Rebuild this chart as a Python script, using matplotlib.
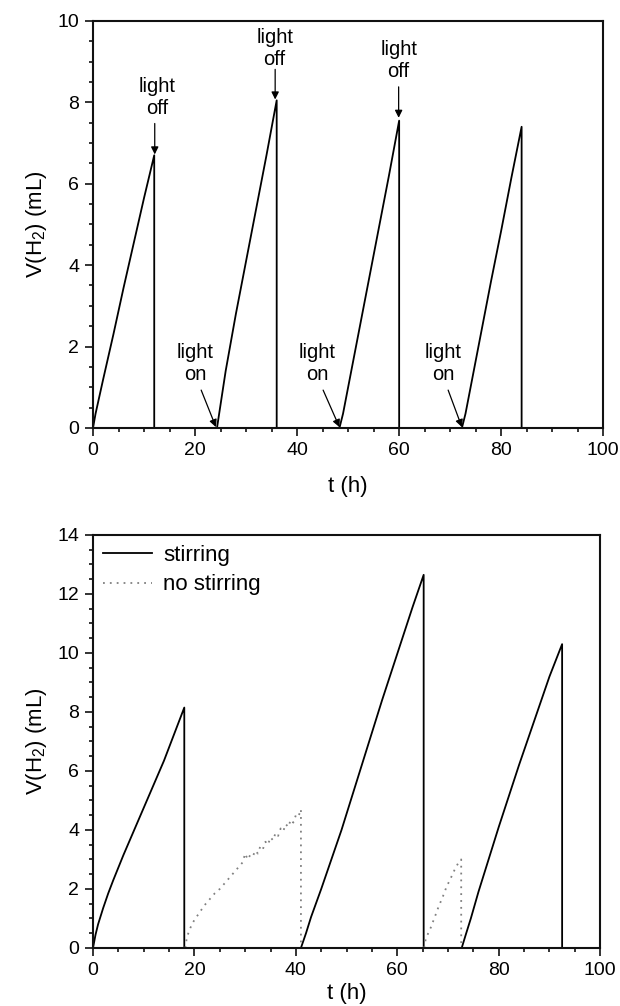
import matplotlib
matplotlib.use("Agg")
import matplotlib.pyplot as plt
from matplotlib.ticker import MultipleLocator

plt.rcParams['font.family'] = ['Liberation Sans', 'DejaVu Sans']
plt.rcParams['mathtext.fontset'] = 'custom'
plt.rcParams['mathtext.rm'] = 'Liberation Sans'

# ---------------- top panel data (light on/off cycles) ----------------
top_t = [
    [0, 0.5, 2, 4, 6, 8, 10, 12],
    [24.3, 26, 28, 30, 32, 34, 36],
    [48.3, 49, 50, 52, 54, 56, 58, 60],
    [72.3, 73, 74, 76, 78, 80, 82, 84],
]
top_v = [
    [0, 0.35, 1.2, 2.3, 3.45, 4.55, 5.65, 6.7],
    [0, 1.4, 2.8, 4.1, 5.4, 6.7, 8.05],
    [0, 0.35, 1.0, 2.3, 3.6, 4.9, 6.2, 7.55],
    [0, 0.35, 1.0, 2.3, 3.6, 4.85, 6.15, 7.4],
]
off_labels = ["light\noff", "light\noff", "light\noff"]
off_text_xy = [(12.5, 8.13), (35.6, 9.32), (59.9, 9.02)]
off_arrow_from = [(12.1, 7.48), (35.7, 8.81), (59.9, 8.38)]
off_arrow_to = [(12.1, 6.72), (35.7, 8.07), (59.9, 7.62)]
on_labels = ["light\non", "light\non", "light\non"]
on_text_xy = [(20.0, 1.58), (44.0, 1.58), (68.6, 1.58)]
on_arrow_from = [(21.2, 0.93), (45.1, 0.93), (69.6, 0.93)]
on_arrow_to = [(24.1, 0.02), (48.3, 0.02), (72.3, 0.02)]

# ---------------- bottom panel data (stirring / no stirring) ----------------
stir_t = [
    [0, 0.5, 1, 2, 3, 4, 6, 8, 10, 12, 14, 16, 18],
    [41, 42, 43, 45, 47, 49, 51, 53, 55, 57, 59, 61, 63, 65.2],
    [72.7, 73.5, 74.5, 76, 78, 80, 82, 84, 86, 88, 90, 92.5],
]
stir_v = [
    [0, 0.45, 0.8, 1.35, 1.85, 2.3, 3.15, 3.95, 4.75, 5.55, 6.35, 7.25, 8.15],
    [0, 0.5, 1.05, 2.0, 3.0, 4.0, 5.1, 6.2, 7.3, 8.4, 9.45, 10.5, 11.55, 12.65],
    [0, 0.45, 1.0, 1.9, 3.0, 4.1, 5.15, 6.2, 7.2, 8.2, 9.2, 10.3],
]
nostir_t = [
    [18.2, 18.5, 19, 19.5, 20, 21, 22, 23, 24, 25, 26, 27, 28, 29, 29.5, 30,
     30.5, 31, 31.5, 32, 32.5, 33, 33.5, 34, 34.5, 35, 35.5, 36, 36.5, 37,
     37.5, 38, 38.5, 39, 39.5, 40, 40.5, 41],
    [65.3, 65.6, 66.1, 66.6, 67.5, 68.1, 69, 69.7, 70.5, 71.3, 72.3, 72.6],
]
nostir_v = [
    [0, 0.35, 0.6, 0.8, 0.95, 1.2, 1.45, 1.65, 1.85, 2.0, 2.2, 2.4, 2.6, 2.8, 2.9, 3.2,
     3.0, 3.15, 3.1, 3.3, 3.2, 3.45, 3.35, 3.6, 3.5, 3.75, 3.65, 3.9, 3.8, 4.05,
     3.95, 4.2, 4.1, 4.35, 4.25, 4.5, 4.45, 4.7],
    [0, 0.3, 0.5, 0.69, 1.1, 1.38, 1.75, 2.07, 2.35, 2.65, 2.97, 3.0],
]

FS_TICK = 14
FS_ANN = 14.5
FS_LAB = 16

fig = plt.figure(figsize=(6.2, 10.06), dpi=100)
ax1 = fig.add_axes([0.150, 0.5746, 0.823, 0.4046])
ax2 = fig.add_axes([0.150, 0.0577, 0.818, 0.4105])


def style(ax, ymax, yminor, xpad):
    for s in ax.spines.values():
        s.set_linewidth(1.5)
        s.set_color('#111111')
    ax.set_xlim(0, 100)
    ax.set_ylim(0, ymax)
    ax.xaxis.set_major_locator(MultipleLocator(20))
    ax.xaxis.set_minor_locator(MultipleLocator(5))
    ax.yaxis.set_major_locator(MultipleLocator(2))
    ax.yaxis.set_minor_locator(MultipleLocator(yminor))
    ax.tick_params(which='both', direction='out', top=False, right=False,
                   width=1.2, labelsize=FS_TICK, color='#111111')
    ax.tick_params(which='major', length=6, pad=4)
    ax.tick_params(which='minor', length=3)
    ax.set_xlabel('t (h)', fontsize=FS_LAB, labelpad=xpad)
    ax.set_ylabel('V(H$_\\mathregular{2}$) (mL)', fontsize=FS_LAB, labelpad=6)


# top panel
for tt, vv in zip(top_t, top_v):
    ax1.plot(tt + [tt[-1]], vv + [0], color='black', lw=1.3, clip_on=False)
style(ax1, 10, 0.5, 12)
for lab, (tx, ty), p0, p1 in zip(off_labels + on_labels,
                                 off_text_xy + on_text_xy,
                                 off_arrow_from + on_arrow_from,
                                 off_arrow_to + on_arrow_to):
    ax1.text(tx, ty, lab, ha='center', va='center', fontsize=FS_ANN, linespacing=1.2)
    ax1.annotate('', xy=p1, xytext=p0,
                 arrowprops=dict(arrowstyle='-|>', color='black', lw=0.9,
                                 mutation_scale=11, shrinkA=0, shrinkB=0))

# bottom panel
for i, (tt, vv) in enumerate(zip(stir_t, stir_v)):
    ax2.plot(tt + [tt[-1]], vv + [0], color='black', lw=1.3,
             label='stirring' if i == 0 else None)
for i, (tt, vv) in enumerate(zip(nostir_t, nostir_v)):
    ax2.plot(tt + [tt[-1]], vv + [0], color='#808080', lw=1.3, ls=(0, (1, 2.8)),
             label='no stirring' if i == 0 else None)
style(ax2, 14, 0.5, 3)
ax2.legend(loc='upper left', frameon=False, fontsize=FS_LAB, handlelength=2.2,
           handletextpad=0.5, labelspacing=0.38, borderpad=0.2, borderaxespad=0.25)

fig.savefig('out.png', dpi=100)
